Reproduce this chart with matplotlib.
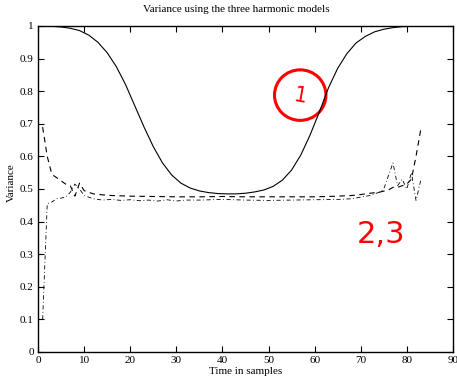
import matplotlib
matplotlib.use("Agg")
import matplotlib.pyplot as plt
from matplotlib.patches import Ellipse

plt.rcParams["font.family"] = ["Liberation Serif", "DejaVu Serif"]

# model 1: solid curve, every second sample
solid_x = list(range(1, 84, 2))
solid_y = [1.0, 0.999, 0.997, 0.993, 0.986, 0.972, 0.95, 0.918, 0.875, 0.82,
           0.755, 0.69, 0.63, 0.58, 0.543, 0.518, 0.503, 0.494, 0.489, 0.486,
           0.485, 0.485, 0.487, 0.491, 0.497, 0.508, 0.527, 0.558, 0.604, 0.665,
           0.735, 0.81, 0.87, 0.915, 0.948, 0.968, 0.982, 0.99, 0.995, 0.998,
           0.999, 1.0]

# model 2: dashed
dash_x = [1, 2, 3, 4, 5, 6, 7, 8, 9, 10, 12, 14, 16, 20, 25, 30, 35, 40, 45,
          50, 55, 60, 65, 68, 70, 72, 74, 76, 77, 78, 79, 80, 81, 82, 83]
dash_y = [0.69, 0.60, 0.545, 0.535, 0.525, 0.515, 0.51, 0.478, 0.518, 0.495,
          0.485, 0.482, 0.48, 0.478, 0.477, 0.476, 0.476, 0.477, 0.476, 0.476,
          0.476, 0.476, 0.478, 0.48, 0.483, 0.487, 0.49, 0.497, 0.505, 0.505,
          0.51, 0.515, 0.53, 0.60, 0.68]

# model 3: dash-dot
dd_x = [1, 2, 3, 4, 5, 6, 7, 8, 9, 10, 11, 12, 14, 16, 18, 20, 22, 24, 26, 28,
        30, 32, 35, 40, 45, 50, 55, 60, 65, 68, 70, 72, 74, 75, 76, 77, 78, 79,
        80, 81, 82, 83]
dd_y = [0.1, 0.455, 0.46, 0.47, 0.472, 0.475, 0.49, 0.515, 0.50, 0.48, 0.475,
        0.47, 0.466, 0.468, 0.465, 0.467, 0.464, 0.466, 0.463, 0.467, 0.463,
        0.466, 0.466, 0.468, 0.466, 0.465, 0.466, 0.467, 0.468, 0.47, 0.475,
        0.48, 0.49, 0.50, 0.54, 0.58, 0.51, 0.53, 0.50, 0.55, 0.465, 0.525]

fig = plt.figure(figsize=(4.57, 3.80), dpi=100)
ax = fig.add_axes([0.0832, 0.0737, 0.9078, 0.8579])

ax.plot(solid_x, solid_y, color="black", linewidth=0.8, linestyle="-")
ax.plot(dash_x, dash_y, color="black", linewidth=0.8, linestyle=(0, (5, 4)))
ax.plot(dd_x, dd_y, color="black", linewidth=0.6, linestyle=(0, (5, 3, 1, 3)))

ax.set_xlim(0, 90)
ax.set_ylim(0, 1)
ax.set_xticks(range(0, 91, 10))
ax.set_yticks([i / 10 for i in range(11)])
ax.set_yticklabels(["0", "0.1", "0.2", "0.3", "0.4", "0.5", "0.6", "0.7",
                    "0.8", "0.9", "1"])
ax.tick_params(direction="in", top=True, right=True, labelsize=8, length=4,
               width=0.8, pad=3)
for s in ax.spines.values():
    s.set_linewidth(1.0)

ax.set_xlabel("Time in samples", fontsize=8, labelpad=1)
ax.set_ylabel("Variance", fontsize=8)
ax.yaxis.set_label_coords(-0.053, 0.52)
fig.text(236 / 457, 0.974, "Variance using the three harmonic models",
         fontsize=8, ha="center", va="center")

# red hand-drawn notes
ax.add_patch(Ellipse((0.632, 0.788), 0.124, 0.155, angle=0,
                     transform=ax.transAxes, fill=False,
                     edgecolor="red", linewidth=2.2))
ax.text(0.632, 0.786, "1", transform=ax.transAxes, color="red", fontsize=15,
        ha="center", va="center", family=["DejaVu Sans"], rotation=-10)
ax.text(74.5, 0.36, "2,3", color="red", fontsize=22, ha="center", va="center",
        family=["DejaVu Sans"])

fig.savefig("out.png", dpi=100)
